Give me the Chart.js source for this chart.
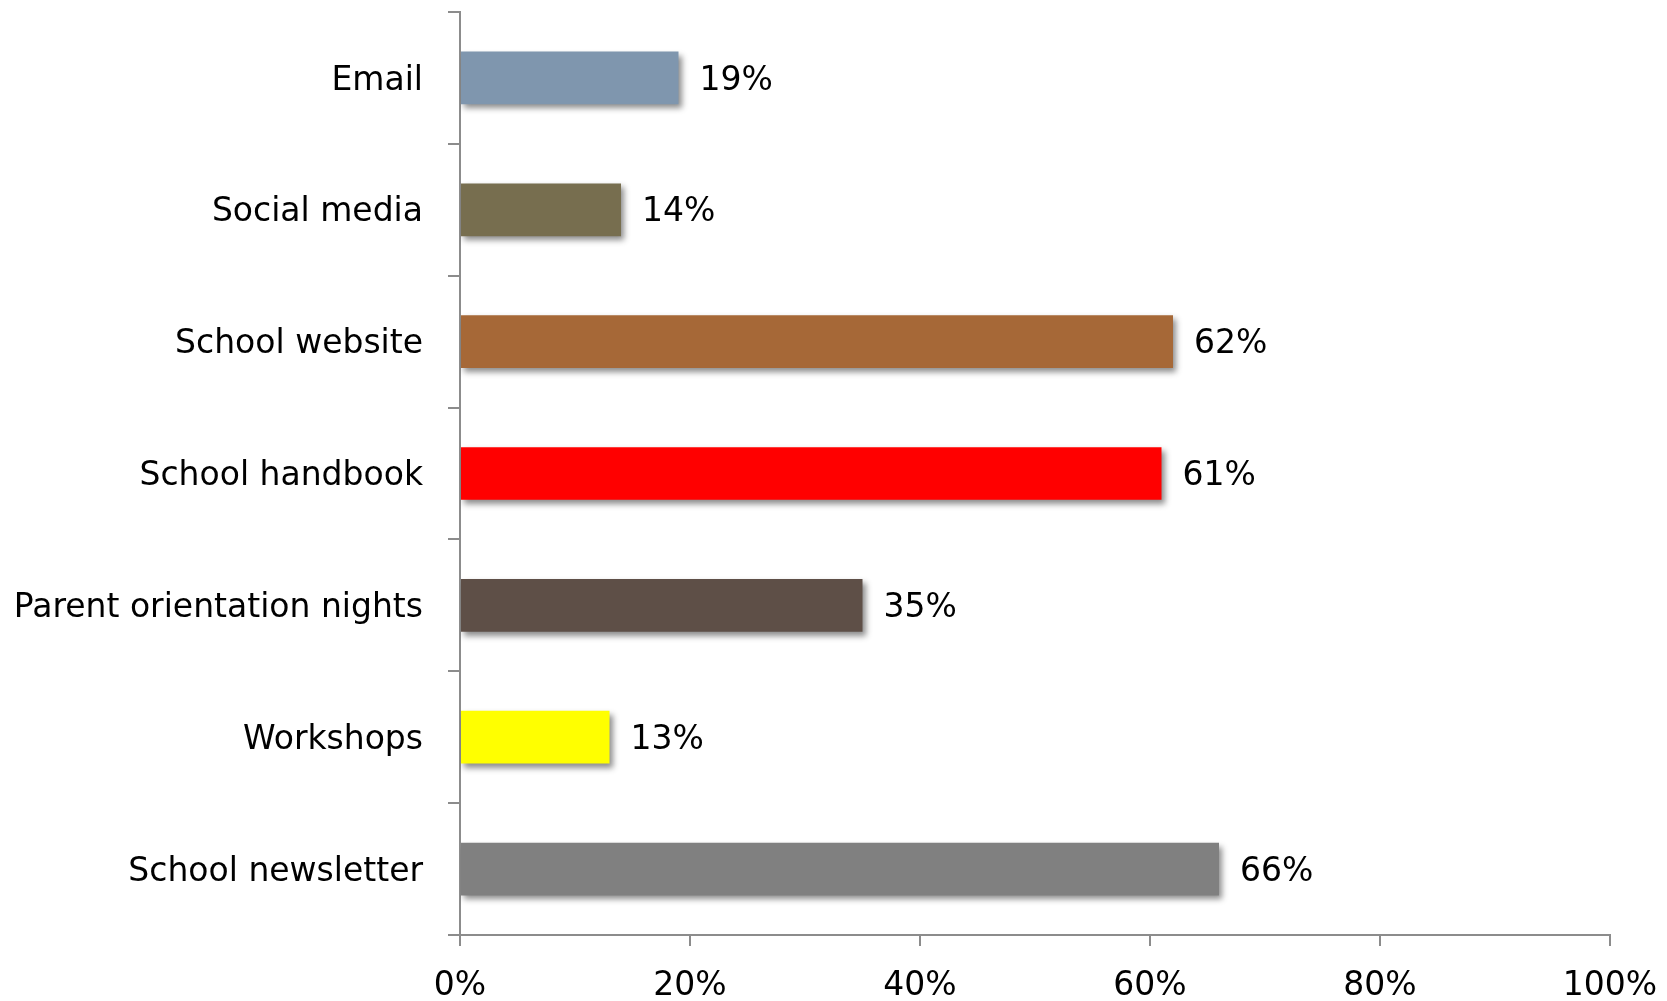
<!DOCTYPE html>
<html>
<head>
<meta charset="utf-8">
<script src="https://cdn.jsdelivr.net/npm/chart.js@4/dist/chart.umd.min.js"></script>
<style>
  html, body { margin: 0; padding: 0; background: #fff; }
  #wrap { width: 1667px; height: 1001px; position: relative; }
</style>
</head>
<body>
<div id="wrap"><canvas id="chart"></canvas></div>
<script>
// Canais de comunicação com as famílias (% de respostas)
const categories = [
  "Email",
  "Social media",
  "School website",
  "School handbook",
  "Parent orientation nights",
  "Workshops",
  "School newsletter"
]
const values = [19, 14, 62, 61, 35, 13, 66]
const barColors = ["#7f96ae", "#776e4f", "#a66837", "#ff0000", "#5e4f47", "#ffff00", "#808080"]
const xTicks = [0, 20, 40, 60, 80, 100]

const FONT = "'DejaVu Sans', sans-serif"
const FONT_SIZE = 33
const AXIS = "#8c8c8c"

// sombra leve sob as barras
const barShadow = {
  id: "barShadow",
  beforeDatasetsDraw(chart) {
    const ctx = chart.ctx
    ctx.save()
    ctx.shadowColor = "rgba(0,0,0,0.45)"
    ctx.shadowBlur = 6
    ctx.shadowOffsetX = 3
    ctx.shadowOffsetY = 4
  },
  afterDatasetsDraw(chart) {
    chart.ctx.restore()
  }
}

// rótulos de valor à direita de cada barra
const valueLabels = {
  id: "valueLabels",
  afterDraw(chart) {
    const ctx = chart.ctx
    const meta = chart.getDatasetMeta(0)
    ctx.save()
    ctx.font = `${FONT_SIZE}px ${FONT}`
    ctx.fillStyle = "#000"
    ctx.textAlign = "left"
    ctx.textBaseline = "middle"
    meta.data.forEach((bar, i) => {
      ctx.fillText(`${values[i]}%`, bar.x + 21, bar.y + 3)
    })
    ctx.restore()
  }
}

new Chart(document.getElementById("chart"), {
  type: "bar",
  data: {
    labels: categories,
    datasets: [{
      data: values,
      backgroundColor: barColors,
      borderWidth: 0,
      categoryPercentage: 0.8,
      barPercentage: 0.5
    }]
  },
  plugins: [barShadow, valueLabels],
  options: {
    indexAxis: "y",
    responsive: true,
    maintainAspectRatio: false,
    animation: false,
    layout: { padding: { top: 12, right: 57, left: 0, bottom: 0 } },
    plugins: {
      legend: { display: false },
      tooltip: { enabled: false }
    },
    scales: {
      x: {
        min: 0,
        max: 100,
        afterBuildTicks: (scale) => { scale.ticks = xTicks.map((v) => ({ value: v })) },
        afterFit: (scale) => {
          scale.height = 66
          scale.paddingLeft = 0
          scale.paddingRight = 0
        },
        border: { display: true, color: AXIS, width: 2 },
        grid: { display: true, drawOnChartArea: false, drawTicks: true, tickLength: 11, color: AXIS, lineWidth: 2 },
        ticks: {
          color: "#000",
          padding: 21,
          maxRotation: 0,
          font: { size: FONT_SIZE, family: FONT },
          callback: (v) => `${v}%`
        }
      },
      y: {
        afterFit: (scale) => {
          scale.width = 460
          scale.paddingTop = 0
          scale.paddingBottom = 0
        },
        border: { display: true, color: AXIS, width: 2 },
        grid: { display: true, offset: true, drawOnChartArea: false, drawTicks: true, tickLength: 12, color: AXIS, lineWidth: 2 },
        ticks: {
          color: "#000",
          padding: 25,
          labelOffset: 3,
          font: { size: FONT_SIZE, family: FONT }
        }
      }
    }
  }
})
</script>
</body>
</html>
